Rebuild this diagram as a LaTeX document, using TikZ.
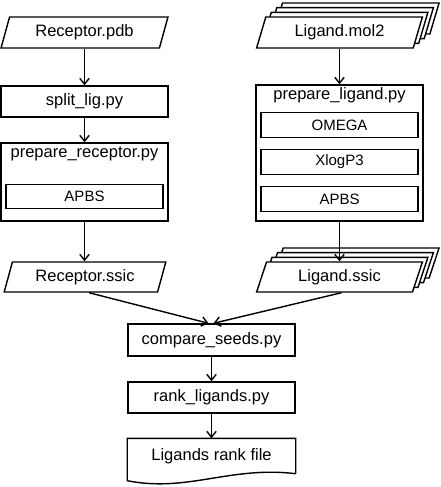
\documentclass[tikz,border=0pt]{standalone}
\usepackage{fontspec}
\setmainfont{Liberation Sans}
\usepackage{xcolor}
\usepackage{tikz}
\usetikzlibrary{calc,arrows.meta,shapes.geometric,shadows}
\definecolor{ink}{HTML}{000000}
\definecolor{paper}{HTML}{FFFFFF}
\tikzset{
  box/.style={draw=ink, fill=paper, line width=1.2pt, rectangle, inner sep=0pt,
    minimum width=5.01cm, minimum height=0.93cm, font=\fontsize{14.1}{16}\selectfont},
  inbox/.style={draw=ink, fill=paper, line width=1pt, rectangle, inner sep=0pt,
    minimum width=4.71cm, minimum height=0.73cm, font=\fontsize{12.8}{14}\selectfont},
  io/.style={draw=ink, fill=paper, line width=1.2pt, trapezium, trapezium stretches=true,
    trapezium left angle=70, trapezium right angle=110, inner sep=0pt,
    minimum width=5.01cm, minimum height=0.93cm, font=\fontsize{14.1}{16}\selectfont},
  stack/.style={io,
    copy shadow={shadow xshift=0.5cm, shadow yshift=0.42cm, line width=1.2pt},
    copy shadow={shadow xshift=0.33cm, shadow yshift=0.28cm, line width=1.2pt},
    copy shadow={shadow xshift=0.165cm, shadow yshift=0.14cm, line width=1.2pt}},
  ttl/.style={font=\fontsize{14.1}{16}\selectfont, inner sep=0pt},
  flow/.style={draw=ink, line width=1.2pt, -{Straight Barb[length=5pt,width=8pt]}}
}
\begin{document}
\begin{tikzpicture}[x=0.03cm, y=-0.03cm]
  \useasboundingbox (0,0) rectangle (440,487);

  \node[io] (rpdb) at (84.5,32.5) {Receptor.pdb};
  \node[box] (split) at (84.5,101.5) {split\_lig.py};
  \node[box, minimum height=2.34cm] (prec) at (84.5,182) {};
  \node[ttl] (precT) at (84.5,154) {prepare\_receptor.py};
  \node[inbox] (apbsR) at (84.5,196.5) {APBS};
  \node[io, minimum width=4.86cm, minimum height=0.9cm] (rssic) at (85,277) {Receptor.ssic};

  \node[stack] (lmol) at (339.5,32.5) {Ligand.mol2};
  \node[box, minimum height=4.08cm] (plig) at (339.5,153) {};
  \node[ttl] (pligT) at (339.5,95) {prepare\_ligand.py};
  \node[inbox] (omega) at (339.5,125) {OMEGA};
  \node[inbox] (xlogp) at (339.5,162) {XlogP3};
  \node[inbox] (apbsL) at (339.5,199) {APBS};
  \node[stack, minimum height=0.9cm] (lssic) at (339.5,277) {Ligand.ssic};

  \node[box, minimum height=0.96cm] (cmp) at (211.5,340) {compare\_seeds.py};
  \node[box] (rank) at (211.5,397.5) {rank\_ligands.py};
  \node[box, draw=none, fill=none, minimum height=1.02cm] (doc) at (211.5,456) {Ligands rank file};
  \draw[line width=1.2pt, draw=ink] (doc.south east) -- (doc.north east) -- (doc.north west)
    -- ($(doc.south west)+(0,7)$)
    .. controls ($(doc.south west)+(60,19)$) and ($(doc.south east)+(-65,-8)$) .. (doc.south east);

  \draw[flow] (split.north |- rpdb.south) -- (split.north);
  \draw[flow] (split.south) -- (prec.north);
  \draw[flow] (prec.south) -- (prec.south |- rssic.north);
  \draw[flow] (plig.north |- lmol.south) -- (plig.north);
  \draw[flow] (plig.south) -- (plig.south |- lssic.north);
  \draw[flow] ($(rssic.south)+(4,0)$) -- ($(cmp.north)+(-3,0)$);
  \draw[flow] ($(lssic.south)+(2,0)$) -- ($(cmp.north)+(2,0)$);
  \draw[flow] (cmp.south) -- (rank.north);
  \draw[flow] (rank.south) -- (doc.north);
\end{tikzpicture}
\end{document}
